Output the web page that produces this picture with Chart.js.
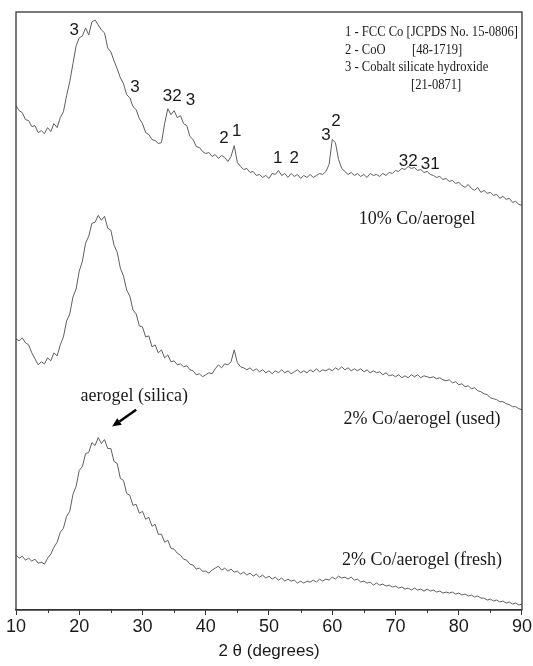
<!DOCTYPE html>
<html><head><meta charset="utf-8">
<script src="https://cdn.jsdelivr.net/npm/chart.js@4"></script>
<style>html,body{margin:0;padding:0;background:#fff}</style>
</head><body>
<canvas id="c" width="533" height="666" style="width:533px;height:666px;display:block"></canvas>
<script>
// 2θ sampling (degrees)
const twoTheta = Array.from({length:161},(_,i)=>10+i*0.5);
const xTickValues = [10,20,30,40,50,60,70,80,90];
const minorTickValues = [15,25,35,45,55,65,75,85];

// intensities (a.u., offset for stacking)
const co10 = [
506,501,499,492,491,485,486,479,481,478,
484,480,488,484,494,500,516,530,548,566,
574,576,584,577,590,592,587,582,579,564,
560,551,543,534,528,517,514,505,502,493,
488,479,477,472,471,468,469,488,503,497,
501,494,496,488,486,475,472,465,464,460,
458,459,455,457,453,456,454,450,455,466,
449,445,442,443,439,440,436,437,434,436,
433,438,437,441,436,438,434,438,435,437,
433,436,434,437,434,436,438,437,440,447,
472,469,452,443,440,437,439,436,438,435,
437,434,438,436,437,435,438,436,439,438,
441,440,443,442,445,443,444,441,442,439,
440,437,436,434,435,432,433,430,431,428,
429,426,424,427,423,421,424,419,421,418,
419,416,417,413,415,412,413,409,410,407,
406];

const co2used = [
272,270,273,268,266,258,252,246,249,247,
253,250,258,255,266,274,290,297,314,322,
340,350,368,375,388,389,396,391,395,383,
381,366,359,343,335,321,315,301,297,285,
284,274,275,264,266,258,261,253,256,249,
250,246,247,244,245,241,240,236,237,234,
236,238,237,242,246,243,247,246,249,261,
248,244,243,241,243,240,242,239,241,238,
240,237,240,238,241,238,240,237,239,241,
238,240,238,241,239,242,239,241,240,242,
240,243,241,244,241,243,240,242,240,242,
239,241,238,240,238,239,236,238,235,236,
234,236,233,235,233,236,234,236,233,235,
234,233,234,232,233,231,230,231,228,229,
226,227,224,225,222,223,220,219,217,216,
213,212,211,209,209,207,206,204,204,202,
201];

const co2fresh = [
55,52,54,50,52,49,51,47,48,46,
52,56,63,68,78,82,94,99,116,124,
140,144,157,158,168,165,173,167,171,162,
162,149,147,132,130,117,115,105,106,97,
99,91,93,84,86,76,76,68,70,62,
61,57,55,51,50,46,45,41,42,39,
39,37,40,42,44,40,42,39,41,38,
39,36,38,35,37,34,36,33,35,32,
34,31,33,30,32,29,31,29,30,27,
29,27,29,28,30,28,31,29,31,30,
33,31,34,32,33,31,33,30,31,28,
29,27,28,25,27,25,26,24,25,23,
24,22,23,21,22,20,22,20,21,19,
21,19,20,18,19,17,18,17,18,16,
17,15,16,14,15,13,14,12,12,10,
11,9,10,8,9,7,8,6,7,5,
6];

const seriesNames = ['10% Co/aerogel','2% Co/aerogel (used)','2% Co/aerogel (fresh)'];

// annotations (data coordinates)
const peakLabels = [
  {t:'3',  x:19.2, y:582},
  {t:'3',  x:28.8, y:524},
  {t:'32', x:34.7, y:515},
  {t:'3',  x:37.6, y:511},
  {t:'2',  x:42.9, y:473},
  {t:'1',  x:44.9, y:480},
  {t:'1',  x:51.4, y:453},
  {t:'2',  x:54.0, y:453},
  {t:'3',  x:59.0, y:476},
  {t:'2',  x:60.6, y:490},
  {t:'32', x:72.0, y:450},
  {t:'31', x:75.5, y:447}
];
const curveLabels = [
  {t:'10% Co/aerogel', x:73.4, y:392},
  {t:'2% Co/aerogel (used)', x:74.2, y:191},
  {t:'2% Co/aerogel (fresh)', x:74.2, y:50},
  {t:'aerogel (silica)', x:28.7, y:214}
];
const arrow = {from:{x:29.0,y:201}, to:{x:25.2,y:184}};
const legendLines = [
  {t:'1 - FCC Co [JCPDS No. 15-0806]', dx:-177, dy:20},
  {t:'2 - CoO', dx:-177, dy:38},
  {t:'[48-1719]', dx:-110, dy:38},
  {t:'3 - Cobalt silicate hydroxide', dx:-177, dy:55},
  {t:'[21-0871]', dx:-111, dy:73}
];
const legendWidth = 173;

const SERIF = '"Liberation Serif","Times New Roman",serif';
const SANS = '"Liberation Sans",Arial,sans-serif';
const INK = '#1a1a1a';

const decor = {
  id:'decor',
  afterDatasetsDraw(chart){
    const {ctx, chartArea:a, scales:{x, y}} = chart;
    ctx.save();
    // frame
    ctx.strokeStyle = '#333'; ctx.lineWidth = 1.3;
    ctx.strokeRect(a.left, a.top, a.right-a.left, a.bottom-a.top);
    // minor ticks
    ctx.lineWidth = 1;
    minorTickValues.forEach(v=>{
      const px = Math.round(x.getPixelForValue(v))+0.5;
      ctx.beginPath(); ctx.moveTo(px, a.bottom); ctx.lineTo(px, a.bottom+3); ctx.stroke();
    });
    ctx.fillStyle = INK;
    ctx.textAlign = 'center'; ctx.textBaseline = 'middle';
    ctx.font = '17px ' + SANS;
    peakLabels.forEach(p=>ctx.fillText(p.t, x.getPixelForValue(p.x), y.getPixelForValue(p.y)));
    ctx.font = '18px ' + SERIF;
    curveLabels.forEach(p=>ctx.fillText(p.t, x.getPixelForValue(p.x), y.getPixelForValue(p.y)));
    // legend (narrow setting, fitted to the box width)
    ctx.textAlign = 'left';
    ctx.font = '15px ' + SERIF;
    const sx = legendWidth / ctx.measureText(legendLines[0].t).width;
    legendLines.forEach(l=>{
      ctx.save();
      ctx.translate(a.right + l.dx, a.top + l.dy);
      ctx.scale(sx, 1);
      ctx.fillText(l.t, 0, 0);
      ctx.restore();
    });
    // arrow
    const x1 = x.getPixelForValue(arrow.from.x), y1 = y.getPixelForValue(arrow.from.y);
    const x2 = x.getPixelForValue(arrow.to.x), y2 = y.getPixelForValue(arrow.to.y);
    const ang = Math.atan2(y2-y1, x2-x1);
    const hl = 9, hw = 4;
    const bx = x2 - hl*Math.cos(ang), by = y2 - hl*Math.sin(ang);
    ctx.strokeStyle = '#000'; ctx.lineWidth = 2.5;
    ctx.beginPath(); ctx.moveTo(x1,y1); ctx.lineTo(bx,by); ctx.stroke();
    ctx.fillStyle = '#000';
    ctx.beginPath();
    ctx.moveTo(x2,y2);
    ctx.lineTo(bx + hw*Math.sin(ang), by - hw*Math.cos(ang));
    ctx.lineTo(bx - hw*Math.sin(ang), by + hw*Math.cos(ang));
    ctx.closePath(); ctx.fill();
    ctx.restore();
  }
};

const mk = (arr, name) => ({
  label: name,
  data: twoTheta.map((t,i)=>({x:t, y:arr[i]})),
  borderColor:'#5e5e5e', borderWidth:1, pointRadius:0, tension:0, fill:false
});

new Chart(document.getElementById('c'), {
  type:'line',
  data:{datasets:[mk(co10,seriesNames[0]), mk(co2used,seriesNames[1]), mk(co2fresh,seriesNames[2])]},
  options:{
    responsive:false, animation:false, devicePixelRatio:1,
    layout:{padding:{left:16,right:11,top:12,bottom:2}},
    plugins:{legend:{display:false}, tooltip:{enabled:false}},
    scales:{
      x:{type:'linear', min:10, max:90,
        afterBuildTicks(s){ s.ticks = xTickValues.map(v=>({value:v})); },
        ticks:{color:INK, font:{family:SANS, size:18}, padding:1, maxRotation:0, autoSkip:false},
        grid:{display:true, drawOnChartArea:false, drawTicks:true, tickLength:5, color:'#333'},
        border:{display:true, color:'#333', width:1.3},
        title:{display:true, text:'2 θ (degrees)', color:INK, font:{family:SANS, size:17}, padding:{top:3,bottom:2}}
      },
      y:{display:false, min:0, max:600}
    }
  },
  plugins:[decor]
});
</script>
</body></html>
